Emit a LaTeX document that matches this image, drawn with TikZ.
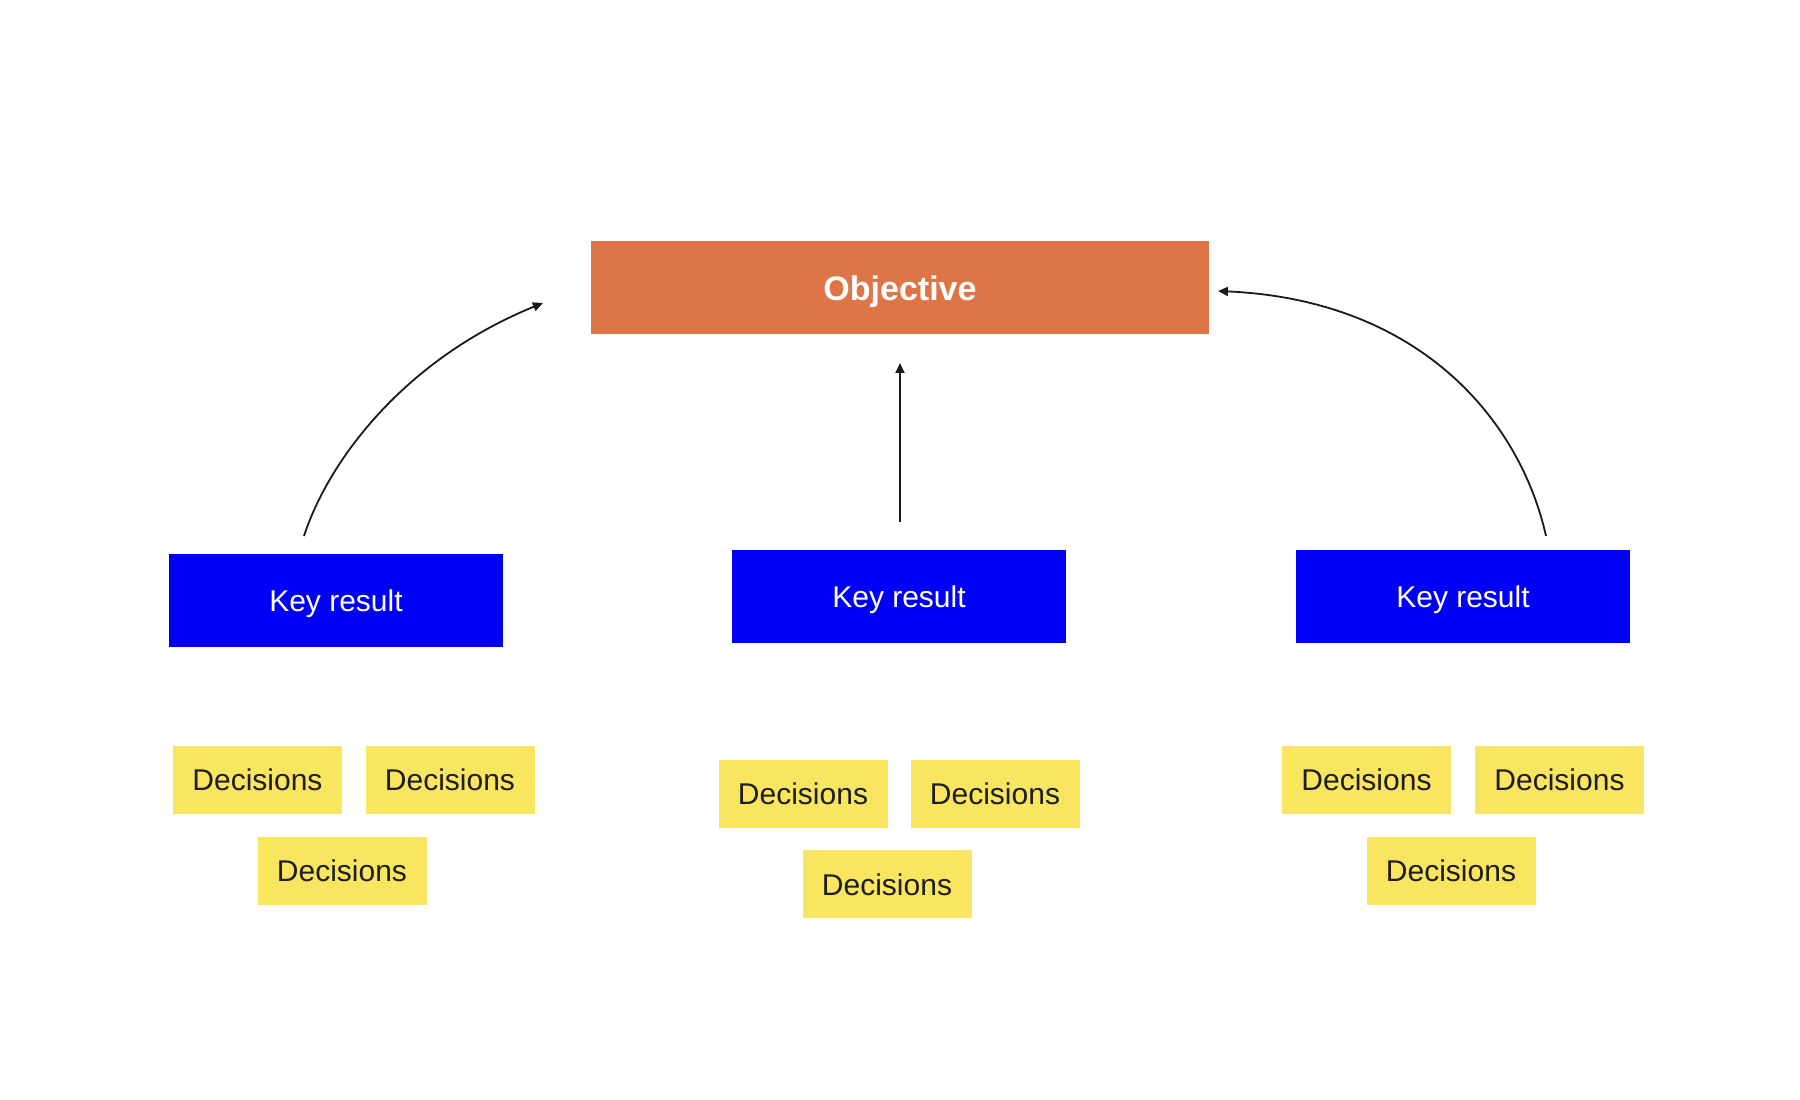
\documentclass[tikz,border=0pt]{standalone}
\usepackage{fontspec}
\setmainfont{Liberation Sans}
\usetikzlibrary{arrows.meta}
\definecolor{objorange}{HTML}{DD7546}
\definecolor{krblue}{HTML}{0000F5}
\definecolor{decyellow}{HTML}{F9E560}
\definecolor{dectext}{HTML}{1E1E1E}
\definecolor{arrowcol}{HTML}{1A1A1A}
\tikzset{
  objbox/.style={fill=objorange, draw=none, minimum width=618pt, minimum height=93pt, inner sep=0pt,
    text=white, font=\fontsize{34}{40}\selectfont\bfseries, text height=24.5pt, text depth=0pt},
  krbox/.style={fill=krblue, draw=none, minimum width=334pt, minimum height=93pt, inner sep=0pt,
    text=white, font=\fontsize{30}{36}\selectfont, text height=21.5pt, text depth=0pt},
  decbox/.style={fill=decyellow, draw=none, minimum width=169pt, minimum height=68pt, inner sep=0pt,
    text=dectext, font=\fontsize{30}{36}\selectfont, text height=21.5pt, text depth=0pt},
  link/.style={draw=arrowcol, line width=1.8pt, -{Triangle[length=10pt,width=9pt]}}
}
\begin{document}
\begin{tikzpicture}[x=1pt,y=1pt]
\useasboundingbox (0,0) rectangle (1800,1100);
\fill[white] (0,0) rectangle (1800,1100);

\node[objbox] (obj) at (900,812) {Objective};

\node[krbox] (krl) at (336,499.5) {Key result};
\node[krbox] (krm) at (899,503.5) {Key result};
\node[krbox] (krr) at (1463,503.5) {Key result};

\node[decbox] (dl1) at (257.5,320) {Decisions};
\node[decbox] (dl2) at (450,320) {Decisions};
\node[decbox] (dl3) at (342,229) {Decisions};

\node[decbox] (dm1) at (803,306) {Decisions};
\node[decbox] (dm2) at (995,306) {Decisions};
\node[decbox] (dm3) at (887,215.5) {Decisions};

\node[decbox] (dr1) at (1366.5,320) {Decisions};
\node[decbox] (dr2) at (1559.5,320) {Decisions};
\node[decbox] (dr3) at (1451,229) {Decisions};

\coordinate (ls) at (304,564);
\coordinate (le) at (543,797);
\coordinate (ms) at (900,578);
\coordinate (me) at (900,737);
\coordinate (rs) at (1546,564);
\coordinate (re) at (1218,809);

\draw[link] (ls) .. controls (328,638) and (403,740) .. (le);
\draw[link] (ms) -- (me);
\draw[link] (rs) .. controls (1520,680) and (1420,800) .. (re);
\end{tikzpicture}
\end{document}
